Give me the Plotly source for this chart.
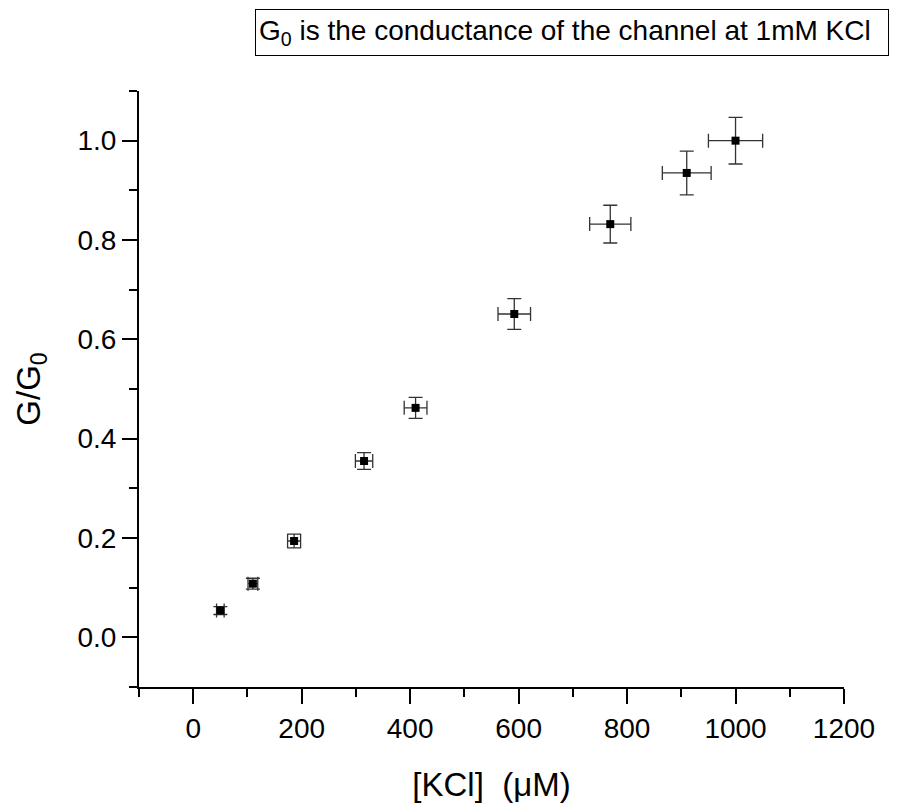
import plotly.graph_objects as go

# ---- data ----
kcl_uM = [50, 110, 186, 315, 410, 592, 769, 910, 1000]
g_ratio = [0.054, 0.108, 0.194, 0.355, 0.462, 0.651, 0.832, 0.935, 1.0]
kcl_err = [7, 9, 12, 16, 21, 30, 38, 45, 50]
g_err = [0.008, 0.011, 0.014, 0.017, 0.021, 0.031, 0.038, 0.044, 0.047]

font_name = "Liberation Sans, Arial, sans-serif"

fig = go.Figure()
fig.add_trace(go.Scatter(
    x=kcl_uM, y=g_ratio, mode="markers",
    marker=dict(symbol="square", size=8, color="black"),
    error_x=dict(type="data", array=kcl_err, visible=True,
                 color="#333333", thickness=1.3, width=7),
    error_y=dict(type="data", array=g_err, visible=True,
                 color="#333333", thickness=1.3, width=7),
    showlegend=False,
))

axis_style = dict(
    showline=True, linecolor="black", linewidth=2, mirror=False,
    showgrid=False, zeroline=False,
    ticks="outside", ticklen=15, tickwidth=2, tickcolor="black",
    tickfont=dict(family=font_name, size=28, color="black"),
)

fig.update_xaxes(
    range=[-100, 1200], tick0=0, dtick=200,
    minor=dict(dtick=100, ticks="outside", ticklen=8, tickwidth=2, tickcolor="black"),
    title=dict(text="[KCl]  (μM)", font=dict(family=font_name, size=33, color="black"), standoff=30),
    **axis_style,
)
fig.update_yaxes(
    range=[-0.1, 1.1], tick0=0, dtick=0.2, tickformat=".1f",
    minor=dict(dtick=0.1, ticks="outside", ticklen=8, tickwidth=2, tickcolor="black"),
    title=dict(text="G/G<sub>0</sub>", font=dict(family=font_name, size=33, color="black"), standoff=27),
    **axis_style,
)

# boxed note above the plot
fig.add_annotation(
    xref="paper", yref="paper", x=0.1645, y=1.0587,
    xanchor="left", yanchor="bottom",
    text="G<sub>0</sub> is the conductance of the channel at 1mM KCl",
    showarrow=False, align="left", width=626, height=39,
    font=dict(family=font_name, size=28, color="black"),
    bordercolor="black", borderwidth=1, borderpad=3, bgcolor="white",
)

# page body adds 8px, so the figure is 8px smaller than the window
fig.update_layout(
    width=891, height=801,
    margin=dict(l=131, r=55, t=83, b=122),
    plot_bgcolor="white", paper_bgcolor="white",
    font=dict(family=font_name, color="black"),
)

fig.write_html("out.html")
